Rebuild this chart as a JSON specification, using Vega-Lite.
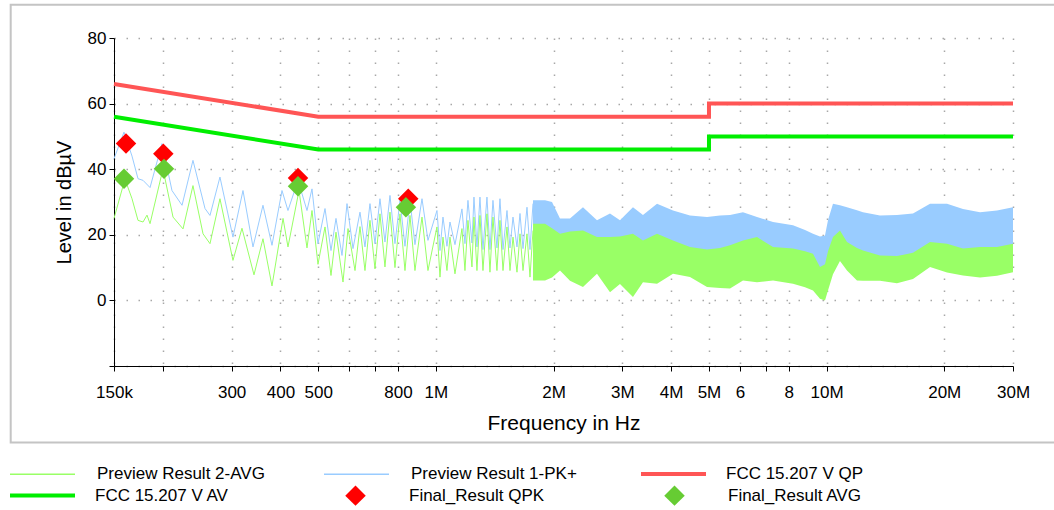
{
  "$schema": "https://vega.github.io/schema/vega-lite/v6.json",
  "width": 899,
  "height": 328,
  "autosize": {"type": "none"},
  "padding": {"left": 114, "top": 38, "right": 41, "bottom": 144},
  "background": "white",
  "config": {
    "view": {"stroke": null},
    "font": "Liberation Sans",
    "axis": {
      "domainColor": "#000000", "domainWidth": 1,
      "tickColor": "#000000", "tickSize": 5, "tickWidth": 1,
      "labelColor": "#000000", "labelFontSize": 17, "labelFont": "Liberation Sans",
      "titleColor": "#000000", "titleFontSize": 20, "titleFontWeight": "normal", "titleFont": "Liberation Sans",
      "gridColor": "#a8a8a8", "gridDash": [1.5, 10.5], "gridWidth": 1.5
    },
    "legend": {"labelFont": "Liberation Sans", "labelFontSize": 17, "labelColor": "#000000", "labelLimit": 400, "padding": 0}
  },
  "datasets": {
    "pk": [{"f":150000,"v":43.2},{"f":159100,"v":51.3},{"f":166800,"v":44},{"f":172800,"v":37.1},{"f":178000,"v":36.6},{"f":185500,"v":34.4},{"f":199000,"v":47.8},{"f":211100,"v":33.5},{"f":224000,"v":29},{"f":238900,"v":42.7},{"f":256500,"v":28},{"f":264100,"v":25.9},{"f":280100,"v":37.6},{"f":302400,"v":19.3},{"f":320800,"v":33.5},{"f":340300,"v":16.3},{"f":360900,"v":29},{"f":380600,"v":16.8},{"f":403700,"v":33.5},{"f":418200,"v":27.4},{"f":443700,"v":36.6},{"f":467800,"v":27.4},{"f":481800,"v":34},{"f":499100,"v":17.3},{"f":520200,"v":28},{"f":538900,"v":15.2},{"f":555000,"v":25},{"f":575000,"v":13.7},{"f":592200,"v":29.5},{"f":613500,"v":15.8},{"f":639300,"v":26.9},{"f":658400,"v":16.3},{"f":678100,"v":29.5},{"f":698400,"v":17.3},{"f":719200,"v":31},{"f":740700,"v":17.8},{"f":762900,"v":32},{"f":785700,"v":17.3},{"f":809200,"v":30.5},{"f":833400,"v":16.5},{"f":858300,"v":30.5},{"f":883900,"v":17},{"f":921300,"v":31},{"f":954300,"v":18.3},{"f":1006300,"v":27.4},{"f":1024300,"v":15.2},{"f":1042600,"v":25.4},{"f":1067400,"v":16.5},{"f":1086500,"v":23.9},{"f":1119000,"v":17},{"f":1166000,"v":27.9},{"f":1186800,"v":17.3},{"f":1208000,"v":30.5},{"f":1236800,"v":17.5},{"f":1251500,"v":31.5},{"f":1273800,"v":16.3},{"f":1296500,"v":31.5},{"f":1319700,"v":15.5},{"f":1351100,"v":31.5},{"f":1375200,"v":15.5},{"f":1399800,"v":30.5},{"f":1433100,"v":16},{"f":1458700,"v":31},{"f":1485000,"v":15.5},{"f":1520400,"v":27.4},{"f":1547600,"v":16},{"f":1575200,"v":25.4},{"f":1612800,"v":16.3},{"f":1641500,"v":26.5},{"f":1670900,"v":15.8},{"f":1710600,"v":28.4},{"f":1741200,"v":15.5},{"f":1772300,"v":29.5}],
    "avg": [{"f":150000,"v":25},{"f":160000,"v":37},{"f":166800,"v":31},{"f":172800,"v":24.4},{"f":178000,"v":23.9},{"f":182200,"v":26},{"f":185500,"v":23.4},{"f":200200,"v":40.1},{"f":212400,"v":25.4},{"f":225300,"v":21.8},{"f":238900,"v":35},{"f":253500,"v":20.3},{"f":264100,"v":17.3},{"f":280100,"v":31},{"f":302400,"v":12.2},{"f":318900,"v":22},{"f":342300,"v":7.8},{"f":360900,"v":18.8},{"f":380600,"v":4.4},{"f":406200,"v":25},{"f":418200,"v":16.3},{"f":446300,"v":33.5},{"f":467800,"v":16},{"f":481800,"v":27.4},{"f":499100,"v":11},{"f":520200,"v":22.4},{"f":538900,"v":7.6},{"f":555000,"v":20.8},{"f":578400,"v":5.6},{"f":595700,"v":21.9},{"f":620800,"v":9.1},{"f":639300,"v":22.5},{"f":658400,"v":9.1},{"f":678100,"v":24.4},{"f":698400,"v":9.6},{"f":719200,"v":26.4},{"f":740700,"v":10.2},{"f":762900,"v":26.9},{"f":785700,"v":10},{"f":809200,"v":26.4},{"f":833400,"v":9.1},{"f":858300,"v":25.9},{"f":883900,"v":9.1},{"f":921300,"v":25.4},{"f":954300,"v":9.1},{"f":1006300,"v":22.4},{"f":1024300,"v":7.1},{"f":1042600,"v":19.3},{"f":1067400,"v":9.1},{"f":1086500,"v":19.3},{"f":1119000,"v":8.1},{"f":1166000,"v":21.9},{"f":1186800,"v":9.1},{"f":1208000,"v":24.4},{"f":1236800,"v":10.2},{"f":1251500,"v":25.4},{"f":1273800,"v":9.1},{"f":1296500,"v":25.9},{"f":1319700,"v":9.1},{"f":1351100,"v":26.4},{"f":1375200,"v":8.6},{"f":1399800,"v":25.4},{"f":1433100,"v":9.1},{"f":1458700,"v":24.4},{"f":1485000,"v":9.1},{"f":1520400,"v":22.4},{"f":1547600,"v":9.1},{"f":1575200,"v":19.3},{"f":1612800,"v":8.6},{"f":1641500,"v":20.3},{"f":1670900,"v":9.1},{"f":1710600,"v":20.3},{"f":1741200,"v":7.1},{"f":1772300,"v":21.3}],
    "band": [{"f":1772300,"blo":13.2,"bhi":30.5,"glo":6.1,"ghi":23.4},{"f":1902600,"blo":13.2,"bhi":30.5,"glo":6.1,"ghi":23.4},{"f":1982400,"blo":14,"bhi":30,"glo":7,"ghi":22},{"f":2078100,"blo":16.3,"bhi":25,"glo":9.1,"ghi":20.3},{"f":2204000,"blo":16,"bhi":25,"glo":6,"ghi":21},{"f":2379300,"blo":16.3,"bhi":28.4,"glo":4.1,"ghi":21.3},{"f":2584400,"blo":15.5,"bhi":24.4,"glo":8.1,"ghi":19.3},{"f":2790000,"blo":15,"bhi":26.5,"glo":2.5,"ghi":19.3},{"f":2959200,"blo":15,"bhi":24.4,"glo":5,"ghi":19.5},{"f":3194400,"blo":14.7,"bhi":28.4,"glo":1,"ghi":20.3},{"f":3388500,"blo":16.3,"bhi":26,"glo":5.5,"ghi":18.3},{"f":3681000,"blo":17,"bhi":29.5,"glo":5.1,"ghi":20.3},{"f":4045000,"blo":16,"bhi":27.4,"glo":8.1,"ghi":18.3},{"f":4471000,"blo":15,"bhi":25.9,"glo":7.1,"ghi":16.3},{"f":4943000,"blo":14,"bhi":25.4,"glo":4.1,"ghi":15.5},{"f":5336000,"blo":14,"bhi":25.9,"glo":3.8,"ghi":16},{"f":5660000,"blo":14,"bhi":26,"glo":3.6,"ghi":16.8},{"f":6110000,"blo":15,"bhi":26.9,"glo":6.1,"ghi":18.3},{"f":6636000,"blo":15,"bhi":25.4,"glo":5.5,"ghi":19.3},{"f":7293000,"blo":14,"bhi":23.9,"glo":6.1,"ghi":16.3},{"f":8204000,"blo":12,"bhi":22.9,"glo":5.1,"ghi":15.8},{"f":8807000,"blo":11,"bhi":21.5,"glo":4,"ghi":15},{"f":9231000,"blo":10,"bhi":20.3,"glo":3,"ghi":14.2},{"f":9618000,"blo":8,"bhi":19.5,"glo":0.5,"ghi":10.2},{"f":9906000,"blo":8,"bhi":19.8,"glo":0,"ghi":11},{"f":10083000,"blo":10,"bhi":24.4,"glo":3,"ghi":15},{"f":10384000,"blo":14,"bhi":29.5,"glo":8,"ghi":19.3},{"f":10821000,"blo":15,"bhi":29,"glo":12,"ghi":21.3},{"f":11277000,"blo":14,"bhi":28.4,"glo":9.1,"ghi":17.8},{"f":11961000,"blo":13,"bhi":27.5,"glo":6.1,"ghi":16},{"f":12392000,"blo":13,"bhi":26.9,"glo":6,"ghi":15.2},{"f":13700000,"blo":13,"bhi":25.9,"glo":6,"ghi":13.7},{"f":15141000,"blo":13,"bhi":26,"glo":5.2,"ghi":13.5},{"f":16640000,"blo":13,"bhi":26.5,"glo":6.5,"ghi":14.5},{"f":18398000,"blo":14,"bhi":29.5,"glo":10.2,"ghi":17.8},{"f":20334000,"blo":14,"bhi":29.5,"glo":8.5,"ghi":17.3},{"f":22341000,"blo":13,"bhi":27.9,"glo":7.6,"ghi":15.8},{"f":24703000,"blo":13,"bhi":26.9,"glo":7,"ghi":16.3},{"f":27298000,"blo":13,"bhi":27.4,"glo":7.5,"ghi":16.3},{"f":30000000,"blo":13,"bhi":28.4,"glo":8.6,"ghi":17.3}],
    "qp": [{"f":150000,"v":66,"o":0},{"f":500000,"v":56,"o":1},{"f":5000000,"v":56,"o":2},{"f":5000000,"v":60,"o":3},{"f":30000000,"v":60,"o":4}],
    "av": [{"f":150000,"v":56,"o":0},{"f":500000,"v":46,"o":1},{"f":5000000,"v":46,"o":2},{"f":5000000,"v":50,"o":3},{"f":30000000,"v":50,"o":4}],
    "qpk": [{"f":161000,"v":47.8},{"f":200600,"v":44.7},{"f":443700,"v":37.3},{"f":849800,"v":31.0}],
    "avgf": [{"f":159100,"v":37.1},{"f":201400,"v":40.1},{"f":443700,"v":34.8},{"f":838000,"v":28.4}]
  },
  "layer": [
    {
      "data": {"name": "pk"},
      "mark": {"type": "line", "strokeWidth": 1, "interpolate": "linear"},
      "encoding": {
        "x": {
          "field": "f", "type": "quantitative",
          "scale": {"type": "log", "domain": [150000, 30000000], "nice": false},
          "axis": {
            "values": [150000, 200000, 300000, 400000, 500000, 600000, 700000, 800000, 1000000, 2000000, 3000000, 4000000, 5000000, 6000000, 7000000, 8000000, 10000000, 20000000, 30000000],
            "labelExpr": "datum.value==150000?'150k':datum.value==300000?'300':datum.value==400000?'400':datum.value==500000?'500':datum.value==800000?'800':datum.value==1000000?'1M':datum.value==2000000?'2M':datum.value==3000000?'3M':datum.value==4000000?'4M':datum.value==5000000?'5M':datum.value==6000000?'6':datum.value==8000000?'8':datum.value==10000000?'10M':datum.value==20000000?'20M':datum.value==30000000?'30M':''",
            "labelOverlap": false, "labelFlush": false, "labelPadding": 13,
            "title": "Frequency in Hz", "titleFontSize": 21, "titlePadding": 12, "grid": true
          }
        },
        "y": {
          "field": "v", "type": "quantitative",
          "scale": {"domain": [-20, 80], "nice": false, "zero": false},
          "axis": {
            "values": [-20, -10, 0, 10, 20, 30, 40, 50, 60, 70, 80],
            "labelExpr": "datum.value % 20 == 0 && datum.value > -20 ? datum.label : ''",
            "labelPadding": 3, "title": "Level in dBµV", "titlePadding": 13, "grid": true
          }
        },
        "color": {
          "datum": "Preview Result 1-PK+", "type": "nominal",
          "scale": {"domain": ["Preview Result 2-AVG", "Preview Result 1-PK+"], "range": ["#99ff66", "#99ccff"]},
          "legend": {
            "orient": "none", "legendX": -104, "legendY": 402.5, "direction": "horizontal", "columns": 2,
            "title": null, "symbolType": "stroke", "symbolSize": 4225, "symbolStrokeWidth": 1.5,
            "symbolOffset": -1, "labelOffset": 21, "columnPadding": 56, "gridAlign": "all"
          }
        }
      }
    },
    {
      "data": {"name": "band"},
      "mark": {"type": "area", "color": "#99ccff", "opacity": 1},
      "encoding": {
        "x": {"field": "f", "type": "quantitative"},
        "y": {"field": "blo", "type": "quantitative"},
        "y2": {"field": "bhi"}
      }
    },
    {
      "data": {"name": "avg"},
      "mark": {"type": "line", "strokeWidth": 1, "interpolate": "linear"},
      "encoding": {
        "x": {"field": "f", "type": "quantitative"},
        "y": {"field": "v", "type": "quantitative"},
        "color": {"datum": "Preview Result 2-AVG", "type": "nominal"}
      }
    },
    {
      "data": {"name": "band"},
      "mark": {"type": "area", "color": "#99ff66", "opacity": 1},
      "encoding": {
        "x": {"field": "f", "type": "quantitative"},
        "y": {"field": "glo", "type": "quantitative"},
        "y2": {"field": "ghi"}
      }
    },
    {
      "data": {"name": "qp"},
      "mark": {"type": "line", "strokeWidth": 4, "color": "#ff5555"},
      "encoding": {
        "x": {"field": "f", "type": "quantitative"},
        "y": {"field": "v", "type": "quantitative"},
        "order": {"field": "o", "type": "quantitative"},
        "opacity": {
          "datum": "FCC 15.207 V QP", "type": "nominal",
          "scale": {"domain": ["FCC 15.207 V QP"], "range": [1]},
          "legend": {
            "orient": "none", "legendX": 527, "legendY": 401.5, "title": null,
            "symbolType": "stroke", "symbolSize": 4225, "symbolStrokeWidth": 4, "symbolStrokeColor": "#ff5555",
            "symbolOffset": -2, "labelOffset": 18
          }
        }
      }
    },
    {
      "data": {"name": "av"},
      "mark": {"type": "line", "strokeWidth": 4},
      "encoding": {
        "x": {"field": "f", "type": "quantitative"},
        "y": {"field": "v", "type": "quantitative"},
        "order": {"field": "o", "type": "quantitative"},
        "stroke": {
          "datum": "FCC 15.207 V AV", "type": "nominal",
          "scale": {"domain": ["FCC 15.207 V AV"], "range": ["#00ee00"]},
          "legend": {
            "orient": "none", "legendX": -104, "legendY": 423, "title": null,
            "symbolType": "stroke", "symbolSize": 4225, "symbolStrokeWidth": 4, "symbolOffset": -2, "labelOffset": 18
          }
        }
      }
    },
    {
      "data": {"name": "qpk"},
      "mark": {"type": "point", "shape": "diamond", "filled": true, "size": 420, "opacity": 1, "strokeWidth": 0},
      "encoding": {
        "x": {"field": "f", "type": "quantitative"},
        "y": {"field": "v", "type": "quantitative"},
        "fill": {
          "datum": "Final_Result QPK", "type": "nominal",
          "scale": {"domain": ["Final_Result QPK", "Final_Result AVG"], "range": ["#ff0000", "#66cc33"]},
          "legend": {
            "orient": "none", "legendX": 209, "legendY": 447, "direction": "horizontal", "columns": 2, "title": null,
            "symbolType": "diamond", "symbolSize": 420, "symbolStrokeWidth": 0, "symbolOffset": 22, "labelOffset": 43,
            "columnPadding": 97, "gridAlign": "all", "symbolOpacity": 1
          }
        }
      }
    },
    {
      "data": {"name": "avgf"},
      "mark": {"type": "point", "shape": "diamond", "filled": true, "size": 420, "opacity": 1, "strokeWidth": 0},
      "encoding": {
        "x": {"field": "f", "type": "quantitative"},
        "y": {"field": "v", "type": "quantitative"},
        "fill": {"datum": "Final_Result AVG", "type": "nominal"}
      }
    },
    {
      "data": {"values": [{}]},
      "mark": {"type": "rect", "filled": false, "color": "#c4c4c4", "strokeWidth": 2},
      "encoding": {
        "x": {"datum": 81600, "type": "quantitative"},
        "x2": {"datum": 38660000},
        "y": {"datum": 90.15, "type": "quantitative"},
        "y2": {"datum": -43.3}
      }
    }
  ]
}
